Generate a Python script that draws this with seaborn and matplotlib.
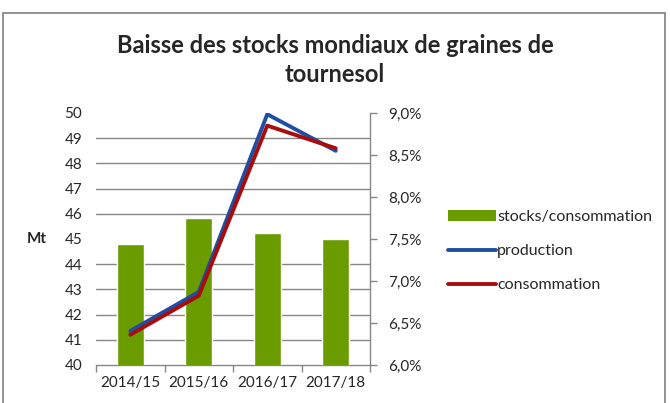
import numpy as np
import pandas as pd
import seaborn as sns
import matplotlib.pyplot as plt
from matplotlib.patches import Patch, Rectangle
from matplotlib.lines import Line2D
from matplotlib.ticker import FuncFormatter, MultipleLocator

seasons = ['2014/15', '2015/16', '2016/17', '2017/18']
stocks_ratio = [7.44, 7.755, 7.575, 7.50]   # % stocks/consommation
production = [41.35, 42.9, 49.95, 48.5]     # Mt
consommation = [41.2, 42.75, 49.5, 48.6]    # Mt

green = '#6a9c00'
blue = '#1f4ea3'
red = '#a80d0d'
grey = '#868686'

sns.set_style('white')
plt.rcParams['font.family'] = ['Lato', 'DejaVu Sans']

fig = plt.figure(figsize=(6.7, 4.03), dpi=100)
fig.patches.append(Rectangle((3 / 670, -0.1), 662 / 670, 1 - 13 / 403 + 0.1,
                             transform=fig.transFigure, fill=False,
                             edgecolor='#7f7f7f', linewidth=1.2))

ax = fig.add_axes([96 / 670, 1 - 365 / 403, 274 / 670, 252 / 403])
bars = pd.DataFrame({'season': seasons, 'ratio': stocks_ratio})
sns.barplot(data=bars, x='season', y='ratio', color=green, width=0.39,
            saturation=1, ax=ax, zorder=3)
ax2 = ax.twinx()

# right axis: stocks/consommation
ax.set_ylim(6.0, 9.0)
ax.yaxis.set_major_locator(MultipleLocator(0.5))
ax.yaxis.set_major_formatter(FuncFormatter(lambda v, p: f'{v:.1f}%'.replace('.', ',')))
ax.set_yticks(np.linspace(6.0, 9.0, 11), minor=True)
ax.yaxis.tick_right()
ax.tick_params(axis='y', which='major', direction='out', length=5, width=1,
               color=grey, labelsize=11, pad=8, right=True, left=False)
ax.tick_params(axis='y', which='minor', length=0)
ax.grid(axis='y', which='minor', color=grey, linewidth=1, zorder=0)
ax.grid(axis='y', which='major', visible=False)
ax.set_axisbelow(True)
ax.set_xlim(-0.5, 3.5)
ax.set_xlabel('')
ax.set_ylabel('')
ax.set_xticks(range(len(seasons)))
ax.set_xticklabels(seasons)
ax.set_xticks(np.arange(-0.5, 4.0, 1.0), minor=True)
ax.tick_params(axis='x', which='major', length=0, labelsize=11, pad=8)
ax.tick_params(axis='x', which='minor', direction='out', length=5, width=1,
               color=grey, bottom=True)
for s in ['top', 'left']:
    ax.spines[s].set_visible(False)
for s in ['bottom', 'right']:
    ax.spines[s].set_color(grey)
    ax.spines[s].set_linewidth(1)

# left axis: production / consommation
idx = np.arange(len(seasons))
sns.lineplot(x=idx, y=production, color=blue, linewidth=2.8, ax=ax2)
sns.lineplot(x=idx, y=consommation, color=red, linewidth=2.8, ax=ax2)
ax2.set_ylim(40, 50)
ax2.yaxis.set_major_locator(MultipleLocator(1))
ax2.yaxis.tick_left()
ax2.yaxis.set_label_position('left')
ax2.tick_params(axis='y', length=0, labelsize=11, pad=10)
ax2.set_ylabel('Mt', rotation=0, fontsize=11, fontweight='bold', labelpad=20, va='center')
for s in ax2.spines.values():
    s.set_visible(False)

handles = [Patch(facecolor=green, edgecolor='none'),
           Line2D([], [], color=blue, linewidth=2.8),
           Line2D([], [], color=red, linewidth=2.8)]
fig.legend(handles, ['stocks/consommation', 'production', 'consommation'],
           loc='center left', bbox_to_anchor=(434 / 670, 1 - 251 / 403),
           frameon=False, fontsize=11.5, handlelength=3.0, handletextpad=0.05,
           labelspacing=1.25)

fig.text(0.5, 1 - 60 / 403, 'Baisse des stocks mondiaux de graines de\ntournesol',
         ha='center', va='center', fontsize=17, fontweight='bold',
         linespacing=1.3)

fig.savefig('out.png', dpi=100)
